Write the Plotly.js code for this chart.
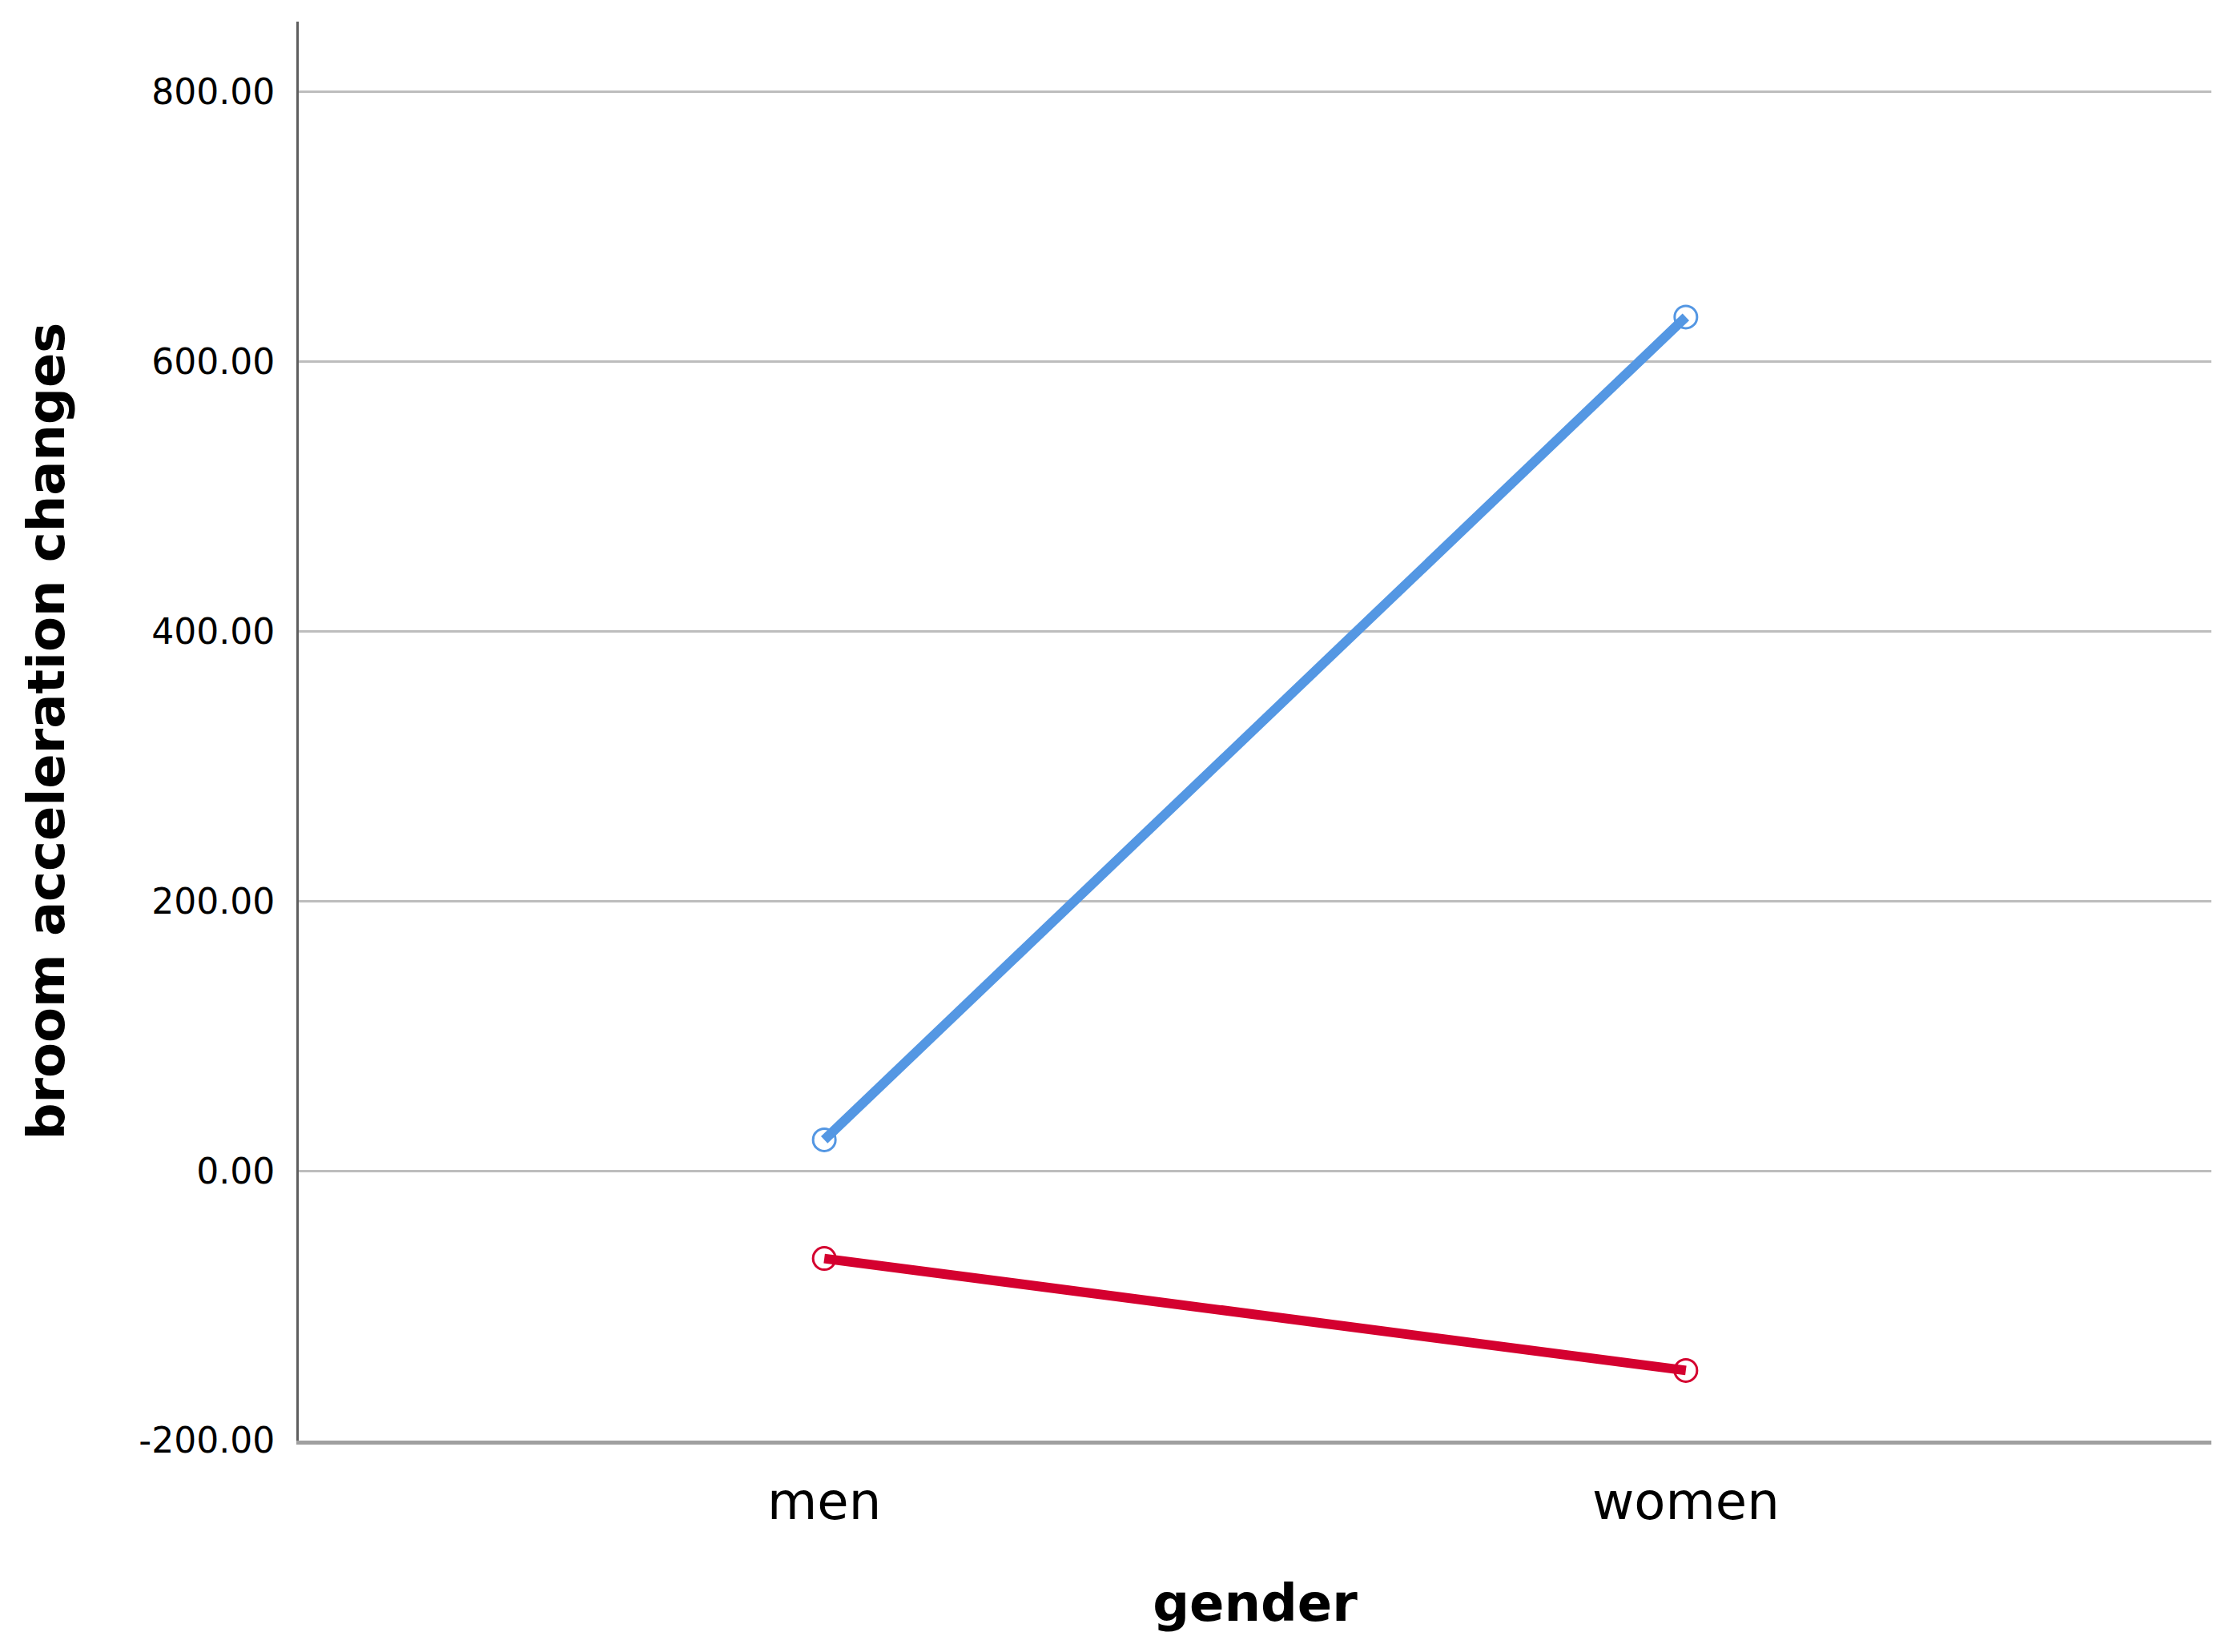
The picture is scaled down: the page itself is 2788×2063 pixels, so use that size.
<!DOCTYPE html>
<html>
<head>
<meta charset="utf-8">
<script src="https://cdn.plot.ly/plotly-3.0.1.min.js"></script>
<style>
  html, body { margin: 0; padding: 0; background: #fff; }
  #chart { width: 2788px; height: 2063px; }
</style>
</head>
<body>
<div id="chart"></div>
<script>
// estimated marginal means
const genders = ['men', 'women'];
const blueSeries = [23, 633];
const redSeries = [-65, -148];
const yTicks = [-200, 0, 200, 400, 600, 800];

function drawChart() {
  const blue = {
    x: genders, y: blueSeries,
    type: 'scatter', mode: 'lines+markers',
    line: { color: '#5497e3', width: 12 },
    marker: { symbol: 'circle-open', size: 28, color: '#5497e3', line: { width: 3 } },
  };
  const red = {
    x: genders, y: redSeries,
    type: 'scatter', mode: 'lines+markers',
    line: { color: '#d4002f', width: 12 },
    marker: { symbol: 'circle-open', size: 28, color: '#d4002f', line: { width: 3 } },
  };

  const layout = {
    width: 2788,
    height: 2063,
    margin: { l: 373, r: 27, t: 27, b: 264 },
    paper_bgcolor: '#fff',
    plot_bgcolor: '#fff',
    showlegend: false,
    font: { family: 'DejaVu Sans, sans-serif', color: '#000' },
    xaxis: {
      type: 'category',
      range: [-0.61, 1.61],
      showgrid: false,
      zeroline: false,
      showline: true,
      linecolor: '#a0a0a0',
      linewidth: 5,
      ticks: '',
      ticklabelstandoff: 16,
      tickfont: { size: 64, family: 'DejaVu Sans, sans-serif' },
      title: { text: 'gender', font: { size: 64, family: 'DejaVu Sans, sans-serif', weight: 'bold' }, standoff: 70 },
    },
    yaxis: {
      range: [-200, 852],
      tickvals: yTicks,
      ticktext: yTicks.map(v => v.toFixed(2)),
      showgrid: true,
      gridcolor: '#bdbdbd',
      gridwidth: 3,
      zeroline: false,
      showline: true,
      linecolor: '#5e5e5e',
      linewidth: 3,
      ticks: '',
      ticklabelstandoff: 18,
      tickfont: { size: 44, family: 'DejaVu Sans, sans-serif' },
      title: { text: 'broom acceleration changes', font: { size: 64, family: 'DejaVu Sans, sans-serif', weight: 'bold' }, standoff: 72 },
    },
  };

  Plotly.newPlot('chart', [blue, red], layout, { displayModeBar: false, staticPlot: true });
}

window.addEventListener('DOMContentLoaded', drawChart, false);
</script>
</body>
</html>
